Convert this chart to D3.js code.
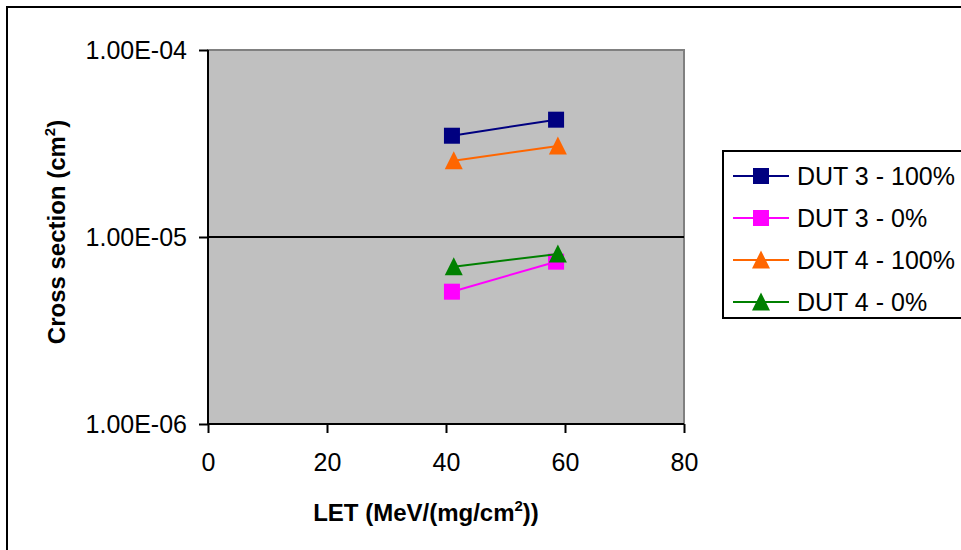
<!DOCTYPE html>
<html>
<head>
<meta charset="utf-8">
<script src="https://cdn.jsdelivr.net/npm/d3@7"></script>
<style>
  body { margin: 0; background: #fff; }
  svg { display: block; font-family: Arial, "Liberation Sans", sans-serif; }
</style>
</head>
<body>
<svg id="chart" width="961" height="550"></svg>
<script>
// data
var seriesNames = ['DUT 3 - 100%', 'DUT 3 - 0%', 'DUT 4 - 100%', 'DUT 4 - 0%']
var seriesColors = ['#000080', '#FF00FF', '#FF6600', '#008000']
var seriesShapes = ['square', 'square', 'triangle', 'triangle']
var dut3Let = [41, 58.5]
var dut4Let = [41.3, 58.8]
var dut3Full = [3.48e-5, 4.24e-5]
var dut3Zero = [5.10e-6, 7.38e-6]
var dut4Full = [2.56e-5, 3.07e-5]
var dut4Zero = [6.94e-6, 8.11e-6]
var xTicks = [0, 20, 40, 60, 80]
var yTicks = [1e-6, 1e-5, 1e-4]

var seriesX = [dut3Let, dut3Let, dut4Let, dut4Let]
var seriesY = [dut3Full, dut3Zero, dut4Full, dut4Zero]

var svg = d3.select('#chart')
var plot = {left: 208, top: 50, right: 684, bottom: 424}

// outer chart frame (runs off the canvas on right and bottom)
svg.append('rect')
    .attr('x', 7).attr('y', 7)
    .attr('width', 1000).attr('height', 600)
    .attr('fill', '#fff')
    .attr('stroke', '#000')
    .attr('stroke-width', 2)

var mapx = d3.scaleLinear()
    .domain([0, 80])
    .range([plot.left, plot.right])

var mapy = d3.scaleLog()
    .domain([1e-6, 1e-4])
    .range([plot.bottom, plot.top])

// plot area
svg.append('rect')
    .attr('x', plot.left).attr('y', plot.top)
    .attr('width', plot.right - plot.left)
    .attr('height', plot.bottom - plot.top)
    .attr('fill', '#C0C0C0')
    .attr('stroke', '#808080')
    .attr('stroke-width', 2)

// major gridlines
svg.append('g').selectAll('line')
    .data(yTicks.slice(1, -1))
    .enter().append('line')
    .attr('x1', plot.left).attr('x2', plot.right)
    .attr('y1', d => mapy(d)).attr('y2', d => mapy(d))
    .attr('stroke', '#000')
    .attr('stroke-width', 2)

/*
    --------------------------------------
    Axes
*/
var yAxis = d3.axisLeft(mapy)
    .tickValues(yTicks)
    .tickFormat(d => d.toExponential(2).toUpperCase().replace(/E([+-])(\d)$/, 'E$10$2'))
    .tickSize(9)
    .tickPadding(12)

var gy = svg.append('g')
    .attr('transform', `translate(${plot.left},0)`)
    .call(yAxis)

var xAxis = d3.axisBottom(mapx)
    .tickValues(xTicks)
    .tickSize(9)
    .tickPadding(20)

var gx = svg.append('g')
    .attr('transform', `translate(0,${plot.bottom})`)
    .call(xAxis)

;[gx, gy].forEach(function (g) {
  g.select('.domain').attr('stroke', '#000').attr('stroke-width', 2)
  g.selectAll('.tick line').attr('stroke', '#000').attr('stroke-width', 2)
  g.selectAll('.tick text')
      .attr('fill', '#000')
      .style('font-size', '25px')
      .style('font-family', 'Arial, "Liberation Sans", sans-serif')
})
gy.select('.domain').attr('d', `M0,${plot.top}V${plot.bottom}`)
gx.select('.domain').attr('d', `M${plot.left},0H${plot.right}`)

// axis titles
var xt = svg.append('text')
    .attr('x', 426).attr('y', 521)
    .attr('text-anchor', 'middle')
    .style('font-size', '24px')
    .style('font-weight', 'bold')
xt.append('tspan').text('LET (MeV/(mg/cm')
xt.append('tspan').text('2').attr('dy', -10).style('font-size', '15px')
xt.append('tspan').text('))').attr('dy', 10)

var yt = svg.append('text')
    .attr('transform', 'translate(65,232) rotate(-90)')
    .attr('text-anchor', 'middle')
    .style('font-size', '24px')
    .style('font-weight', 'bold')
yt.append('tspan').text('Cross section (cm')
yt.append('tspan').text('2').attr('dy', -10).style('font-size', '15px')
yt.append('tspan').text(')').attr('dy', 10)

/*
    --------------------------------------
    Series
*/
function marker (sel, shape, color) {
  if (shape === 'square') {
    sel.append('rect')
        .attr('x', -8).attr('y', -8)
        .attr('width', 16).attr('height', 16)
        .attr('fill', color)
  } else {
    sel.append('path')
        .attr('d', 'M0,-9.5L9,8.5L-9,8.5Z')
        .attr('fill', color)
  }
}

var line = d3.line()
    .x(d => mapx(d[0]))
    .y(d => mapy(d[1]))

seriesNames.forEach(function (name, i) {
  var pts = seriesX[i].map((x, j) => [x, seriesY[i][j]])
  var g = svg.append('g')
  g.append('path')
      .attr('d', line(pts))
      .attr('fill', 'none')
      .attr('stroke', seriesColors[i])
      .attr('stroke-width', 2)
  g.selectAll('g.pt')
      .data(pts)
      .enter().append('g')
      .attr('transform', d => `translate(${mapx(d[0])},${mapy(d[1])})`)
      .each(function () { marker(d3.select(this), seriesShapes[i], seriesColors[i]) })
})

/*
    --------------------------------------
    Legend
*/
svg.append('rect')
    .attr('x', 723).attr('y', 151)
    .attr('width', 300).attr('height', 167)
    .attr('fill', '#fff')
    .attr('stroke', '#000')
    .attr('stroke-width', 2)

var rowY = [176, 218, 260, 302]
seriesNames.forEach(function (name, i) {
  var g = svg.append('g').attr('transform', `translate(0,${rowY[i]})`)
  g.append('line')
      .attr('x1', 733).attr('x2', 789)
      .attr('stroke', seriesColors[i])
      .attr('stroke-width', 2)
  var m = g.append('g').attr('transform', 'translate(761,0)')
  marker(m, seriesShapes[i], seriesColors[i])
  g.append('text')
      .attr('x', 797).attr('y', 9)
      .style('font-size', '25px')
      .text(name)
})
</script>
</body>
</html>
